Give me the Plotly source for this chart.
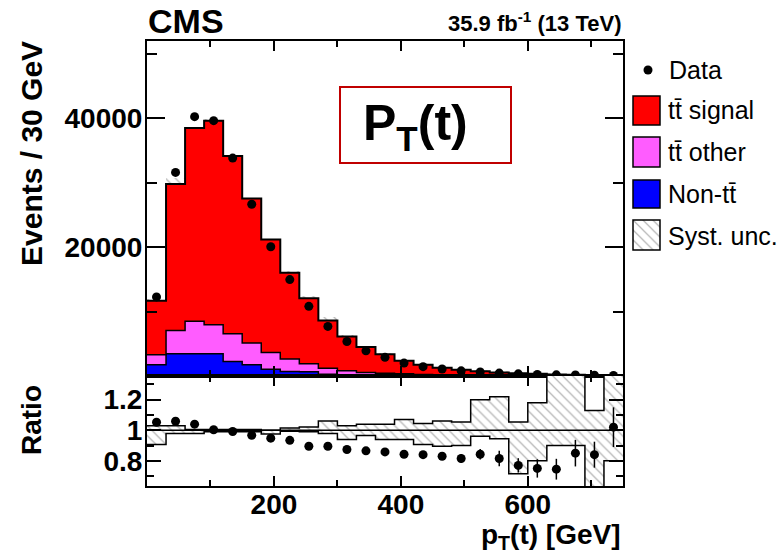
import plotly.graph_objects as go

# ---------------- data ----------------
bin_edges = [0, 30, 60, 90, 120, 150, 180, 210, 240, 270, 300, 330, 360, 390,
             420, 450, 480, 510, 540, 570, 600, 630, 660, 690, 720, 750]

non_tt = [1730, 3440, 3440, 3440, 2240, 1730, 1060, 690, 650, 260, 200, 150, 110,
          80, 60, 45, 35, 28, 22, 17, 13, 10, 8, 6, 5]
tt_other = [1560, 3630, 5040, 4520, 4320, 3380, 2590, 1930, 1240, 960, 600, 410, 330,
            250, 180, 130, 100, 75, 55, 40, 30, 22, 16, 12, 9]
tt_signal = [8380, 22740, 30020, 31680, 27600, 22460, 17520, 13390, 10190, 7380, 5330,
             3960, 2940, 2040, 1490, 1125, 845, 632, 473, 373, 290, 208, 152, 113, 69]
data_counts = [12280, 31600, 40260, 39640, 33820, 26660, 20070, 14970, 10810, 7700,
               5360, 3910, 2900, 2000, 1450, 1080, 800, 620, 450, 330, 250, 180, 150, 110, 85]

ratio_vals = [1.052, 1.059, 1.04, 1.003, 0.992, 0.967, 0.948, 0.934, 0.895, 0.895,
              0.874, 0.865, 0.858, 0.843, 0.84, 0.83, 0.815, 0.843, 0.815, 0.77,
              0.75, 0.745, 0.85, 0.84, 1.02]
ratio_err = [0.004, 0.004, 0.004, 0.004, 0.004, 0.005, 0.006, 0.007, 0.008, 0.01,
             0.012, 0.014, 0.016, 0.019, 0.022, 0.025, 0.03, 0.035, 0.05, 0.047,
             0.06, 0.068, 0.087, 0.085, 0.13]
syst_up = [1.03, 1.03, 1.005, 1.005, 1.005, 1.005, 1.0, 1.015, 1.022, 1.06, 1.03, 1.04,
           1.04, 1.07, 1.044, 1.06, 1.054, 1.2, 1.22, 1.054, 1.18, 1.5, 1.5, 1.13, 1.5]
syst_down = [0.906, 0.978, 0.978, 0.99, 0.99, 0.99, 0.975, 0.993, 0.99, 0.978, 0.94,
             0.965, 0.94, 0.94, 0.906, 0.895, 0.90, 0.96, 0.945, 0.716, 0.80, 0.90,
             0.90, 0.5, 0.80]

x_tick_vals = [200, 400, 600]
y_tick_vals = [20000, 40000]
y_tick_text = ["20000", "40000"]
r_tick_vals = [0.8, 1, 1.2]
r_tick_text = ["0.8", "1", "1.2"]

# ---------------- geometry helpers ----------------
W, H = 784, 560
ML, MR, MT, MB = 147, 1, 41, 74
PW = W - ML - MR
PH = H - MT - MB


def px(x):
    return (x - ML) / PW


def py(y):
    return (H - MB - y) / PH


XD = [0, px(623)]
SPLIT = py(376)
FONT = "Liberation Sans, Arial, Helvetica, sans-serif"

nb = len(bin_edges) - 1
centers = [(bin_edges[i] + bin_edges[i + 1]) / 2 for i in range(nb)]
widths = [bin_edges[i + 1] - bin_edges[i] for i in range(nb)]
c1 = list(non_tt)
c2 = [a + b for a, b in zip(c1, tt_other)]
c3 = [a + b for a, b in zip(c2, tt_signal)]


def step(v):
    return list(v) + [v[-1]]


hatch = dict(shape="\\", fgcolor="#6e6e6e", bgcolor="white", size=7, solidity=0.18)

fig = go.Figure()

# stacked histogram
fig.add_trace(go.Scatter(x=bin_edges, y=step(c1), mode="lines",
                         line=dict(shape="hv", color="black", width=1.5),
                         fill="tozeroy", fillcolor="#0000ff", xaxis="x", yaxis="y"))
fig.add_trace(go.Scatter(x=bin_edges, y=step(c2), mode="lines",
                         line=dict(shape="hv", color="black", width=1.5),
                         fill="tonexty", fillcolor="#ff5cff", xaxis="x", yaxis="y"))
fig.add_trace(go.Scatter(x=bin_edges, y=step(c3), mode="lines",
                         line=dict(shape="hv", color="black", width=2),
                         fill="tonexty", fillcolor="#ff0000", xaxis="x", yaxis="y"))
# syst band on the stack
fig.add_trace(go.Bar(x=centers, width=widths,
                     base=[t * d for t, d in zip(c3, syst_down)],
                     y=[t * (u - d) for t, u, d in zip(c3, syst_up, syst_down)],
                     marker=dict(color="white", line=dict(width=0), pattern=hatch),
                     xaxis="x", yaxis="y"))
# data
fig.add_trace(go.Scatter(x=centers, y=data_counts, mode="markers",
                         marker=dict(color="black", size=9), xaxis="x", yaxis="y"))

# ratio panel
fig.add_trace(go.Bar(x=centers, width=widths, base=syst_down,
                     y=[u - d for u, d in zip(syst_up, syst_down)],
                     marker=dict(color="white", line=dict(width=0), pattern=hatch),
                     xaxis="x2", yaxis="y2"))
fig.add_trace(go.Scatter(x=bin_edges, y=step(syst_up), mode="lines",
                         line=dict(shape="hv", color="black", width=1.5),
                         xaxis="x2", yaxis="y2"))
fig.add_trace(go.Scatter(x=bin_edges, y=step(syst_down), mode="lines",
                         line=dict(shape="hv", color="black", width=1.5),
                         xaxis="x2", yaxis="y2"))
fig.add_trace(go.Scatter(x=centers, y=ratio_vals, mode="markers",
                         marker=dict(color="black", size=9),
                         error_y=dict(type="data", array=ratio_err, color="black",
                                      thickness=1.5, width=0),
                         xaxis="x2", yaxis="y2"))

# legend hatched swatch on its own tiny axes
fig.add_trace(go.Bar(x=[0.5], y=[1], base=[0], width=[1],
                     marker=dict(color="white", line=dict(width=0), pattern=hatch),
                     xaxis="x3", yaxis="y3"))

axis_common = dict(showline=True, linecolor="black", linewidth=2, mirror="ticks",
                   ticks="inside", tickcolor="black", tickwidth=1.5,
                   showgrid=False, zeroline=False)
tickfont = dict(family=FONT, size=28, color="black", weight="bold")

fig.update_layout(
    width=W, height=H,
    margin=dict(l=ML, r=MR, t=MT, b=MB),
    paper_bgcolor="white", plot_bgcolor="white",
    showlegend=False, barmode="overlay", bargap=0,
    xaxis=dict(domain=XD, anchor="y", range=[0, 750], tickvals=x_tick_vals,
               ticklen=10, showticklabels=False,
               minor=dict(tickvals=[100, 300, 500, 700], ticklen=6, ticks="inside",
                          tickcolor="black", tickwidth=1.5),
               **axis_common),
    yaxis=dict(domain=[SPLIT, 1], anchor="x", range=[0, 52000], tickvals=y_tick_vals,
               ticktext=y_tick_text, ticklen=18, tickfont=tickfont, ticklabelstandoff=-3,
               minor=dict(tickvals=[10000, 30000, 50000], ticklen=10, ticks="inside",
                          tickcolor="black", tickwidth=1.5),
               **axis_common),
    xaxis2=dict(domain=XD, anchor="y2", range=[0, 750], tickvals=x_tick_vals,
                ticklen=10, tickfont=tickfont, ticklabelstandoff=-8,
                minor=dict(tickvals=[100, 300, 500, 700], ticklen=6, ticks="inside",
                           tickcolor="black", tickwidth=1.5),
                **axis_common),
    yaxis2=dict(domain=[0, SPLIT], anchor="x2", range=[0.635, 1.355],
                tickvals=r_tick_vals, ticktext=r_tick_text, ticklen=14, tickfont=tickfont,
                ticklabelstandoff=-3,
                minor=dict(tickvals=[0.7, 0.9, 1.1, 1.3], ticklen=7, ticks="inside",
                           tickcolor="black", tickwidth=1.5),
                **axis_common),
    xaxis3=dict(domain=[px(633), px(660)], anchor="y3", range=[0, 1], visible=False),
    yaxis3=dict(domain=[py(250), py(220)], anchor="x3", range=[0, 1], visible=False),
)

shapes = [
    dict(type="line", xref="x2", yref="y2", x0=0, x1=750, y0=1, y1=1,
         line=dict(color="black", width=1.5)),
    # title box
    dict(type="rect", xref="paper", yref="paper", x0=px(340), x1=px(511),
         y0=py(163), y1=py(87), line=dict(color="#c00000", width=2)),
    # legend swatches
    dict(type="circle", xref="paper", yref="paper", x0=px(643.5), x1=px(652.5),
         y0=py(74.5), y1=py(65.5), fillcolor="black", line=dict(width=0)),
    dict(type="rect", xref="paper", yref="paper", x0=px(633), x1=px(660),
         y0=py(125), y1=py(96), fillcolor="#ff0000", line=dict(color="black", width=1.5)),
    dict(type="rect", xref="paper", yref="paper", x0=px(633), x1=px(660),
         y0=py(167), y1=py(137), fillcolor="#ff5cff", line=dict(color="black", width=1.5)),
    dict(type="rect", xref="paper", yref="paper", x0=px(633), x1=px(660),
         y0=py(208), y1=py(180), fillcolor="#0000ff", line=dict(color="black", width=1.5)),
    dict(type="rect", xref="paper", yref="paper", x0=px(633), x1=px(660),
         y0=py(250), y1=py(220), line=dict(color="black", width=1.5)),
]

leg_font = dict(family=FONT, size=25, color="black")
bold = lambda s: dict(family=FONT, size=s, color="black", weight="bold")
annotations = [
    dict(text="Data", x=px(667), y=py(70), xanchor="left", yanchor="middle", font=leg_font),
    dict(text="tt\u0304 signal", x=px(666), y=py(110), xanchor="left", yanchor="middle", font=leg_font),
    dict(text="tt\u0304 other", x=px(666), y=py(152), xanchor="left", yanchor="middle", font=leg_font),
    dict(text="Non-tt\u0304", x=px(666), y=py(194), xanchor="left", yanchor="middle", font=leg_font),
    dict(text="Syst. unc.", x=px(666), y=py(236), xanchor="left", yanchor="middle", font=leg_font),
    dict(text="CMS", x=px(146), y=py(21), xanchor="left", yanchor="middle", font=bold(34)),
    dict(text="35.9 fb<sup>-1</sup> (13 TeV)", x=px(623), y=py(22), xanchor="right",
         yanchor="middle", font=bold(22)),
    dict(text="Events / 30 GeV", x=px(31), y=py(154), textangle=-90, xanchor="center",
         yanchor="middle", font=bold(30)),
    dict(text="Ratio", x=px(31), y=py(420), textangle=-90, xanchor="center",
         yanchor="middle", font=bold(28)),
    dict(text="p<sub>T</sub>(t) [GeV]", x=px(623), y=py(536), xanchor="right",
         yanchor="middle", font=bold(28)),
    dict(text="P<sub>T</sub>(t)", x=px(415), y=py(126), xanchor="center",
         yanchor="middle", font=dict(family=FONT, size=50, color="black", weight="bold")),
]
for a in annotations:
    a.update(xref="paper", yref="paper", showarrow=False)

fig.update_layout(shapes=shapes, annotations=annotations)
fig.write_html("out.html", config={"displayModeBar": False},
               post_script="document.body.style.margin='0';document.body.style.padding='0';")
